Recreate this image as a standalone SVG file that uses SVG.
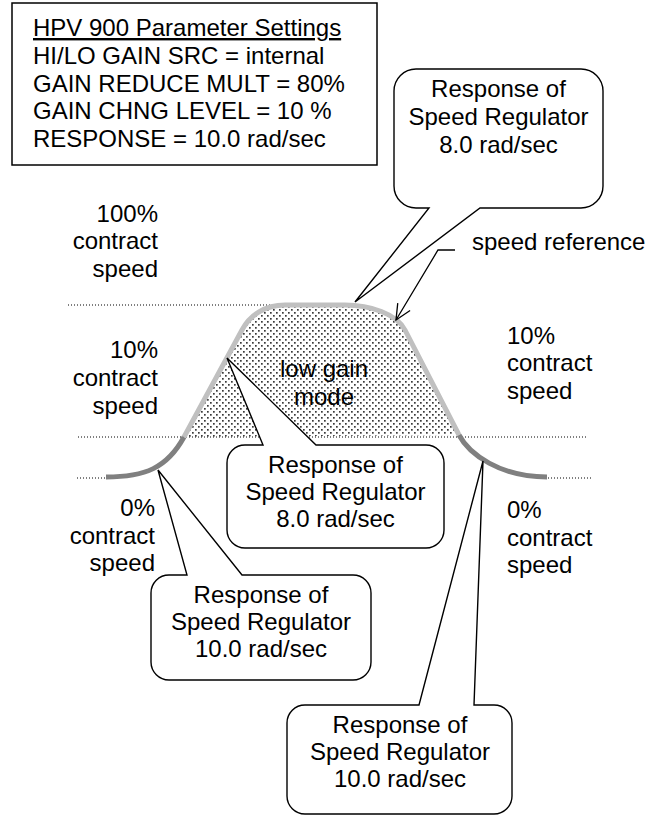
<svg xmlns="http://www.w3.org/2000/svg" width="662" height="817" viewBox="0 0 662 817">
<style>
text{font-family:"Liberation Sans",Arial,sans-serif;font-size:24px;fill:#000}
.c{text-anchor:middle}
.e{text-anchor:end}
.dot{stroke:#000;stroke-width:1;stroke-dasharray:1 2;fill:none}
.box{fill:#fff;stroke:#000;stroke-width:1.4}
.dk{fill:none;stroke:#808080;stroke-width:5;stroke-linecap:butt}
.lt{fill:none;stroke:#c0c0c0;stroke-width:5;stroke-linecap:butt}
</style>
<defs>
<pattern id="dots" width="6" height="6" patternUnits="userSpaceOnUse">
<rect x="0" y="0" width="1.7" height="1.7" fill="#3a3a3a"/>
<rect x="3" y="3" width="1.7" height="1.7" fill="#3a3a3a"/>
</pattern>
<marker id="arr" markerUnits="userSpaceOnUse" markerWidth="20" markerHeight="18" refX="17" refY="8" orient="auto" overflow="visible">
<path d="M1.6,0.8 L17,8 L1.6,15.2" fill="none" stroke="#000" stroke-width="1.3"/>
</marker>
</defs>
<g id="guides">
<line class="dot" x1="68" y1="305" x2="276" y2="305"/>
<line class="dot" x1="78" y1="437" x2="587" y2="437"/>
<line class="dot" x1="77" y1="478" x2="106" y2="478"/>
<line class="dot" x1="548" y1="478" x2="593" y2="478"/>
</g>
<g id="params">
<rect x="12" y="3" width="365" height="162" fill="#fff" stroke="#000" stroke-width="1.5"/>
<text x="33" y="36" text-decoration="underline">HPV 900 Parameter Settings</text>
<text x="33" y="64">HI/LO GAIN SRC = internal</text>
<text x="33" y="91.7">GAIN REDUCE MULT = 80%</text>
<text x="33" y="119.3">GAIN CHNG LEVEL = 10 %</text>
<text x="33" y="146.7">RESPONSE = 10.0 rad/sec</text>
</g>
<g id="speed-curve">
<path d="M184,437 L242,330 C250,315 265,305 285,305 L345,305 C370,305 397,314 405,330 L459,435 Z" fill="url(#dots)"/>
<path class="dk" d="M106,477 C145,477 167,468 184,437"/>
<path class="lt" d="M184,437 L242,330 C250,315 265,305 285,305 L345,305 C370,305 397,314 405,330 L459,435"/>
<path class="dk" d="M459,435 C469,454 500,477 547,477"/>
<text class="c" x="324" y="377">low gain</text>
<text class="c" x="324" y="405">mode</text>
</g>
<g id="labels">
<text class="e" x="158" y="221.5">100%</text>
<text class="e" x="158" y="249">contract</text>
<text class="e" x="158" y="276.5">speed</text>
<text class="e" x="158" y="358">10%</text>
<text class="e" x="158" y="386">contract</text>
<text class="e" x="158" y="413.5">speed</text>
<text class="e" x="155" y="516">0%</text>
<text class="e" x="155" y="543.5">contract</text>
<text class="e" x="155" y="571">speed</text>
<text x="507" y="343.5">10%</text>
<text x="507" y="371">contract</text>
<text x="507" y="398.5">speed</text>
<text x="507" y="518">0%</text>
<text x="507" y="545.5">contract</text>
<text x="507" y="573">speed</text>
<text x="472" y="250">speed reference</text>
</g>
<g id="callout-top">
<path class="box" d="M416,69 H581 A22,22 0 0 1 603,91 V186 A22,22 0 0 1 581,208 H480 L355,302 L429,208 H416 A22,22 0 0 1 394,186 V91 A22,22 0 0 1 416,69 Z"/>
<text class="c" x="498.5" y="97">Response of</text>
<text class="c" x="498.5" y="125">Speed Regulator</text>
<text class="c" x="498.5" y="152.7">8.0 rad/sec</text>
</g>
<g id="callout-mid">
<path class="box" d="M245,445 H263 L227,358 L316,445 H426 A18,18 0 0 1 444,463 V530 A18,18 0 0 1 426,548 H245 A18,18 0 0 1 227,530 V463 A18,18 0 0 1 245,445 Z"/>
<text class="c" x="335.5" y="473.3">Response of</text>
<text class="c" x="335.5" y="500">Speed Regulator</text>
<text class="c" x="335.5" y="527.3">8.0 rad/sec</text>
</g>
<g id="callout-left">
<path class="box" d="M169,575 H187 L158,470 L242,575 H353 A18,18 0 0 1 371,593 V662 A18,18 0 0 1 353,680 H169 A18,18 0 0 1 151,662 V593 A18,18 0 0 1 169,575 Z"/>
<text class="c" x="261" y="603.3">Response of</text>
<text class="c" x="261" y="630">Speed Regulator</text>
<text class="c" x="261" y="656.7">10.0 rad/sec</text>
</g>
<g id="callout-right">
<path class="box" d="M305,705 H419 L483,461 L474,705 H494 A18,18 0 0 1 512,723 V796 A18,18 0 0 1 494,814 H305 A18,18 0 0 1 287,796 V723 A18,18 0 0 1 305,705 Z"/>
<text class="c" x="400" y="732.7">Response of</text>
<text class="c" x="400" y="760">Speed Regulator</text>
<text class="c" x="400" y="786.7">10.0 rad/sec</text>
</g>
<g id="connectors">
<polyline points="455,250 438,250 396,320" fill="none" stroke="#000" stroke-width="1.3" marker-end="url(#arr)"/>
</g>
</svg>
